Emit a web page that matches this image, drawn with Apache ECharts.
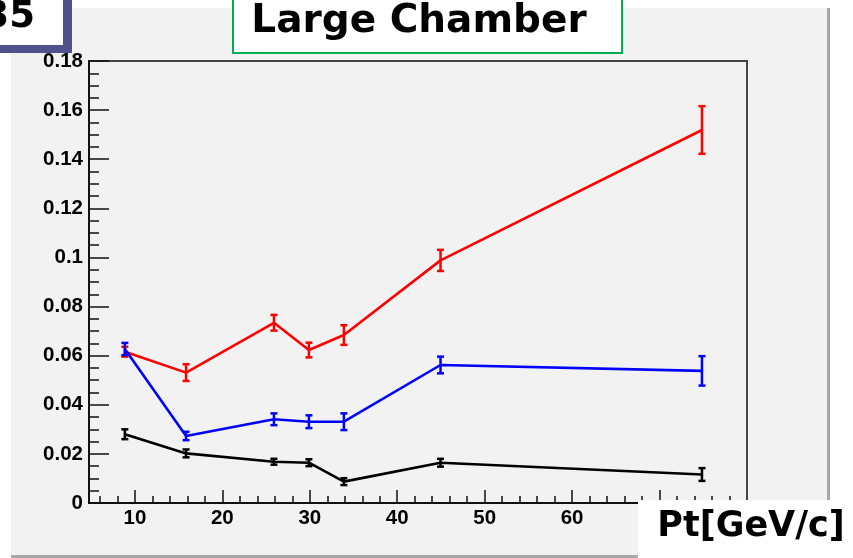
<!DOCTYPE html>
<html>
<head>
<meta charset="utf-8">
<script src="https://cdn.jsdelivr.net/npm/echarts@6/dist/echarts.min.js"></script>
<style>
html,body{margin:0;padding:0;background:#ffffff;}
#chart{width:853px;height:558px;}
</style>
</head>
<body>
<div id="chart"></div>
<script>
// Data
const ptValues = [8.85, 15.85, 25.9, 29.9, 33.9, 44.95, 74.85];
const redValues = [0.0616, 0.0531, 0.0734, 0.0623, 0.0684, 0.0988, 0.1519];
const redErrors = [0.002, 0.0034, 0.0032, 0.003, 0.004, 0.0043, 0.0097];
const blueValues = [0.0627, 0.0273, 0.0341, 0.0331, 0.0331, 0.0562, 0.0538];
const blueErrors = [0.0025, 0.0017, 0.0024, 0.0026, 0.0034, 0.0034, 0.006];
const blackValues = [0.028, 0.0202, 0.0168, 0.0164, 0.0087, 0.0164, 0.0116];
const blackErrors = [0.002, 0.0016, 0.0012, 0.0014, 0.0014, 0.0016, 0.0026];
const xMajorTicks = [10, 20, 30, 40, 50, 60, 70];
const xMinorTicks = [6, 8, 12, 14, 16, 18, 22, 24, 26, 28, 32, 34, 36, 38, 42, 44, 46, 48, 52, 54, 56, 58, 62, 64, 66, 68, 72, 74, 76, 78];
const titleText = 'Large Chamber';
const cornerText = '35';
const xAxisTitle = 'Pt[GeV/c]';

const xMin = 4.75, xMax = 80;

function pts(vals) { return ptValues.map((x, i) => [x, vals[i]]); }
function errData(vals, errs) { return ptValues.map((x, i) => [x, vals[i], errs[i]]); }

function errSeries(vals, errs, color) {
  return {
    type: 'custom',
    data: errData(vals, errs),
    z: 4,
    silent: true,
    renderItem: function (params, api) {
      const x = api.value(0), y = api.value(1), e = api.value(2);
      const lo = api.coord([x, y - e]);
      const hi = api.coord([x, y + e]);
      const cap = 3.5;
      const st = { stroke: color, lineWidth: 2.5 };
      return {
        type: 'group',
        children: [
          { type: 'line', shape: { x1: lo[0], y1: lo[1], x2: hi[0], y2: hi[1] }, style: st },
          { type: 'line', shape: { x1: lo[0] - cap, y1: lo[1], x2: lo[0] + cap, y2: lo[1] }, style: st },
          { type: 'line', shape: { x1: hi[0] - cap, y1: hi[1], x2: hi[0] + cap, y2: hi[1] }, style: st }
        ]
      };
    }
  };
}

function lineSeries(vals, color) {
  return {
    type: 'line',
    data: pts(vals),
    symbol: 'none',
    z: 3,
    lineStyle: { color: color, width: 2.6 },
    silent: true,
    animation: false
  };
}

const chart = echarts.init(document.getElementById('chart'));
const labelFont = { fontFamily: '"Liberation Sans", Arial, sans-serif', fontWeight: 'bold', fontSize: 20.5, color: '#000' };

chart.setOption({
  animation: false,
  grid: {
    left: 89, right: 106, top: 61, bottom: 55,
    show: true, borderColor: '#444', borderWidth: 2, backgroundColor: 'transparent'
  },
  xAxis: [
    {
      type: 'value', min: xMin, max: xMax,
      splitLine: { show: false },
      axisLine: { show: true, onZero: false, lineStyle: { color: '#111', width: 2 } },
      axisTick: { show: true, inside: true, length: 13, customValues: xMajorTicks, lineStyle: { color: '#111', width: 1.5 } },
      axisLabel: Object.assign({ customValues: xMajorTicks, margin: 5 }, labelFont)
    },
    {
      type: 'value', min: xMin, max: xMax, position: 'bottom',
      splitLine: { show: false },
      axisLine: { show: false },
      axisTick: { show: true, inside: true, length: 7, customValues: xMinorTicks, lineStyle: { color: '#111', width: 1.5 } },
      axisLabel: { show: false }
    }
  ],
  yAxis: {
    type: 'value', min: 0, max: 0.18, interval: 0.02,
    splitLine: { show: false },
    axisLine: { show: true, onZero: false, lineStyle: { color: '#111', width: 2 } },
    axisTick: { show: true, inside: true, length: 20, lineStyle: { color: '#111', width: 1.5 } },
    minorTick: { show: true, splitNumber: 4, length: 10, lineStyle: { color: '#111', width: 1.5 } },
    minorSplitLine: { show: false },
    axisLabel: Object.assign({ margin: 6, formatter: function (v) { return String(+v.toFixed(2)); } }, labelFont)
  },
  series: [
    lineSeries(redValues, '#ff0000'),
    lineSeries(blueValues, '#0000ff'),
    lineSeries(blackValues, '#000000'),
    errSeries(redValues, redErrors, '#ff0000'),
    errSeries(blueValues, blueErrors, '#0000ff'),
    errSeries(blackValues, blackErrors, '#000000')
  ],
  graphic: [
    { type: 'rect', z: -100, silent: true, shape: { x: 11, y: 8, width: 816, height: 548 }, style: { fill: '#f2f2f2' } },
    { type: 'rect', z: -99, silent: true, shape: { x: 827, y: 8, width: 3, height: 550 }, style: { fill: '#a8a8a8' } },
    { type: 'rect', z: -99, silent: true, shape: { x: 11, y: 555, width: 819, height: 3 }, style: { fill: '#a8a8a8' } },
    // corner box
    { type: 'rect', z: 100, silent: true, shape: { x: 0, y: 0, width: 72, height: 53 }, style: { fill: '#50508c' } },
    { type: 'rect', z: 101, silent: true, shape: { x: 0, y: 0, width: 63, height: 45 }, style: { fill: '#ffffff' } },
    { type: 'text', z: 102, silent: true, x: 35, y: 17, style: { text: cornerText, font: 'bold 37px "DejaVu Sans"', fill: '#000', align: 'right', verticalAlign: 'middle' } },
    // title box
    { type: 'rect', z: 100, silent: true, shape: { x: 233, y: -5, width: 389, height: 58 }, style: { fill: '#ffffff', stroke: '#00b050', lineWidth: 2 } },
    { type: 'text', z: 102, silent: true, x: 419, y: 22, style: { text: titleText, font: 'bold 39px "DejaVu Sans"', fill: '#000', align: 'center', verticalAlign: 'middle' } },
    // x axis title box
    { type: 'rect', z: 100, silent: true, shape: { x: 638, y: 500, width: 215, height: 58 }, style: { fill: '#ffffff' } },
    { type: 'text', z: 102, silent: true, x: 751, y: 527, style: { text: xAxisTitle, font: 'bold 35px "DejaVu Sans"', fill: '#000', align: 'center', verticalAlign: 'middle' } }
  ]
});
</script>
</body>
</html>
